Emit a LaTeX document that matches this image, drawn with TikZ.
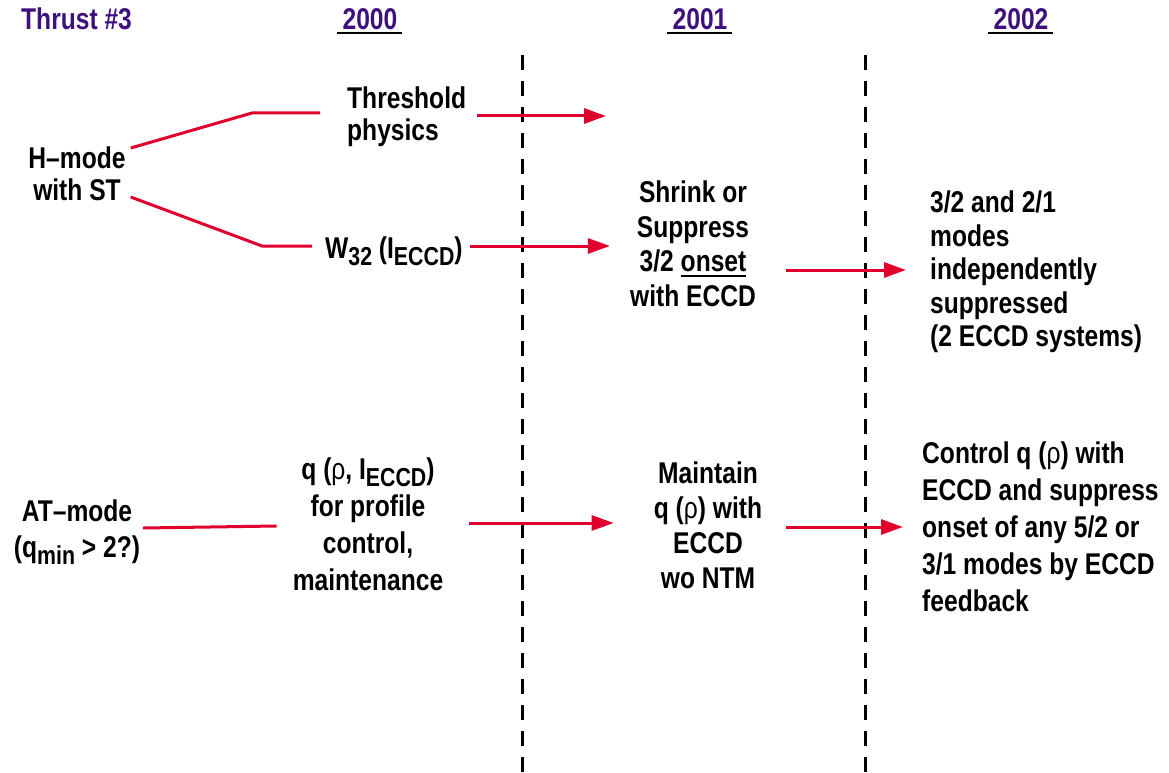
\documentclass[tikz,border=0pt]{standalone}
\usepackage{fontspec}
\setmainfont{Liberation Sans}[FakeStretch=0.82]
\usetikzlibrary{positioning}
\usetikzlibrary{arrows.meta}

\definecolor{ntmred}{RGB}{225,0,45}
\definecolor{ntmpurple}{RGB}{62,16,125}

\newcommand{\lowsub}[1]{\raisebox{-7pt}{\fontsize{26}{26}\selectfont #1}}
\newcommand{\rhotxt}{{\mdseries ρ}}
\newcommand{\ulword}[1]{\setbox0\hbox{#1}\rlap{\rule[-5pt]{\wd0}{2pt}}\box0}

\tikzset{
  lbl/.style={inner sep=0pt, font=\fontsize{30}{33}\selectfont\bfseries, align=center},
  lbll/.style={lbl, align=left},
  hdr/.style={inner sep=0pt, font=\fontsize{30}{33}\selectfont\bfseries, text=ntmpurple},
  redline/.style={draw=ntmred, line width=3pt},
  redarrow/.style={redline, -{Triangle[length=22pt,width=15pt]}},
  yearline/.style={line width=2.5pt},
  divider/.style={line width=3pt, dash pattern=on 15pt off 11pt}
}

\begin{document}
\begin{tikzpicture}[x=1pt,y=-1pt]
\useasboundingbox (0,0) rectangle (1169,773);

\node[hdr, anchor=base west] (thrust) at (21,30) {Thrust \#3};
\node[hdr, anchor=base] (yr2000) at (370,30) {2000};
\node[hdr, anchor=base] (yr2001) at (700,30) {2001};
\node[hdr, anchor=base] (yr2002) at (1021,30) {2002};
\draw[yearline] ([xshift=-5pt,yshift=-3pt]yr2000.base west) -- ([xshift=4pt,yshift=-3pt]yr2000.base east);
\draw[yearline] ([xshift=-5pt,yshift=-3pt]yr2001.base west) -- ([xshift=4pt,yshift=-3pt]yr2001.base east);
\draw[yearline] ([xshift=-5pt,yshift=-3pt]yr2002.base west) -- ([xshift=4pt,yshift=-3pt]yr2002.base east);

\coordinate (div1top) at (522,55);
\coordinate (div1bot) at (522,773);
\coordinate (div2top) at (865,55);
\coordinate (div2bot) at (865,773);
\draw[divider] (div1top) -- (div1bot);
\draw[divider] (div2top) -- (div2bot);

\node[lbl, font=\fontsize{30}{32}\selectfont\bfseries] (hmode) at (77,174) {H--mode\\with ST};
\node[lbll, font=\fontsize{30}{32}\selectfont\bfseries, anchor=west] (thresh) at (347,117) {Threshold\\physics};
\node[lbl, anchor=base west] (w32) at (325,258) {W\lowsub{32} (I\lowsub{ECCD})};

\node[lbl, font=\fontsize{30}{34.5}\selectfont\bfseries] (shrink) at (693,244) {Shrink or\\Suppress\\3/2 \ulword{onset}\\with ECCD};
\node[lbll, font=\fontsize{30}{33.5}\selectfont\bfseries, anchor=west] (modes) at (930,272) {3/2 and 2/1\\modes\\independently\\suppressed\\(2 ECCD systems)};

\node[lbl, font=\fontsize{30}{36}\selectfont\bfseries] (atmode) at (77,532) {AT--mode\\(q\lowsub{min} > 2?)};
\node[lbl, font=\fontsize{30}{37}\selectfont\bfseries] (qprof) at (368,524) {q (\rhotxt, I\lowsub{ECCD})\\for profile\\control,\\maintenance};
\node[lbl, font=\fontsize{30}{35}\selectfont\bfseries] (maintain) at (708,525) {Maintain\\q (\rhotxt) with\\ECCD\\wo NTM};
\node[lbll, font=\fontsize{30}{37}\selectfont\bfseries, anchor=west] (control) at (922,527) {Control q (\rhotxt) with\\ECCD and suppress\\onset of any 5/2 or\\3/1 modes by ECCD\\feedback};

\coordinate (kinkup) at (252,113);
\coordinate (kinklow) at (262,246);
\coordinate (threshend) at (606,116);
\draw[redline] ([xshift=5pt,yshift=26pt]hmode.east) -- (kinkup) -- ([xshift=-27pt,yshift=4pt]thresh.west);
\draw[redline] ([xshift=5pt,yshift=-23pt]hmode.east) -- (kinklow) -- ([xshift=-13pt,yshift=12pt]w32.base west);
\draw[redline] ([xshift=3pt,yshift=4pt]atmode.east) -- ([xshift=-16pt,yshift=6pt]atmode.east -| qprof.west);

\draw[redarrow] ([xshift=11pt,yshift=1pt]thresh.east) -- (threshend);
\draw[redarrow] ([xshift=7pt,yshift=12pt]w32.base east) -- ([xshift=-20pt,yshift=12pt]w32.base east -| shrink.west);
\draw[redarrow] ([xshift=30pt,yshift=-26pt]shrink.east) -- ([xshift=-24pt,yshift=-26pt]shrink.east -| modes.west);
\draw[redarrow] ([xshift=26pt,yshift=1pt]qprof.east) -- ([xshift=-40pt,yshift=1pt]qprof.east -| maintain.west);
\draw[redarrow] ([xshift=24pt,yshift=-2pt]maintain.east) -- ([xshift=-19pt,yshift=-2pt]maintain.east -| control.west);
\end{tikzpicture}
\end{document}
